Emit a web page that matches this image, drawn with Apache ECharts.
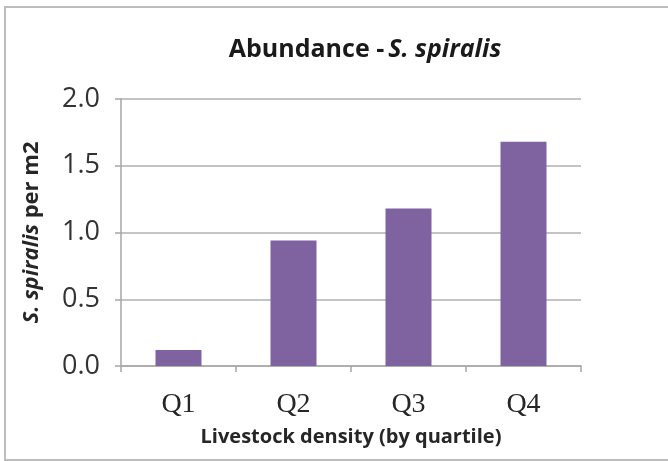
<!DOCTYPE html>
<html>
<head>
<meta charset="utf-8">
<script src="https://cdn.jsdelivr.net/npm/echarts@6/dist/echarts.min.js"></script>
<style>
  html, body { margin: 0; padding: 0; background: #fff; }
  #chart { width: 668px; height: 461px; }
</style>
</head>
<body>
<div id="chart"></div>
<script>
// data
var quartiles = ['Q1', 'Q2', 'Q3', 'Q4'];
var abundance = [0.12, 0.94, 1.18, 1.68];
var yTicks = [0, 0.5, 1.0, 1.5, 2.0];

var chart = echarts.init(document.getElementById('chart'));

var option = {
  animation: false,
  backgroundColor: '#ffffff',
  // outer frame like the Excel chart area
  graphic: [{
    type: 'rect',
    shape: { x: 5, y: 7, width: 700, height: 453 },
    style: { fill: 'none', stroke: '#bdbdbd', lineWidth: 2 },
    silent: true
  }],
  title: {
    text: '{n|Abundance -}{i|S. spiralis}',
    left: 360,
    top: 32,
    textAlign: 'center',
    textStyle: {
      fontFamily: 'Open Sans',
      fontSize: 25,
      fontWeight: 'bold',
      rich: {
        n: { fontFamily: 'Open Sans', fontSize: 25, fontWeight: 'bold', color: '#1a1a1a' },
        i: { fontFamily: 'Open Sans', fontSize: 25, fontWeight: 'bold', fontStyle: 'italic', color: '#1a1a1a', padding: [0, 0, 0, 4] }
      }
    }
  },
  grid: {
    left: 121,
    right: 87,
    top: 99,
    bottom: 95
  },
  xAxis: {
    type: 'category',
    data: quartiles,
    name: 'Livestock density (by quartile)',
    nameLocation: 'middle',
    nameGap: 61,
    nameTextStyle: {
      fontFamily: 'Open Sans', fontSize: 20, fontWeight: 'bold', color: '#262626'
    },
    axisLine: { lineStyle: { color: '#a6a6a6', width: 1.5 } },
    axisTick: { show: true, length: 6, lineStyle: { color: '#a6a6a6', width: 1.5 } },
    axisLabel: {
      margin: 25,
      fontFamily: 'Liberation Serif', fontSize: 28, color: '#262626'
    }
  },
  yAxis: {
    type: 'value',
    min: yTicks[0],
    max: yTicks[yTicks.length - 1],
    interval: 0.5,
    name: '{i|S. spiralis}{n| per m2}',
    nameLocation: 'middle',
    nameRotate: 90,
    nameGap: 78,
    nameTextStyle: {
      fontFamily: 'Open Sans', fontSize: 22, fontWeight: 'bold', color: '#262626',
      rich: {
        i: { fontFamily: 'Open Sans', fontSize: 22, fontWeight: 'bold', fontStyle: 'italic', color: '#262626' },
        n: { fontFamily: 'Open Sans', fontSize: 22, fontWeight: 'bold', color: '#262626' }
      }
    },
    axisLine: { show: true, lineStyle: { color: '#a6a6a6', width: 1.5 } },
    axisTick: { show: true, length: 6, lineStyle: { color: '#a6a6a6', width: 1.5 } },
    splitLine: { lineStyle: { color: '#c4c4c4', width: 2 } },
    axisLabel: {
      margin: 21,
      fontFamily: 'Open Sans', fontSize: 27, color: '#333333',
      formatter: function (v) { return v.toFixed(1); }
    }
  },
  series: [{
    type: 'bar',
    data: abundance,
    barWidth: '40%',
    itemStyle: { color: '#7f63a1' }
  }]
};

chart.setOption(option);
</script>
</body>
</html>
